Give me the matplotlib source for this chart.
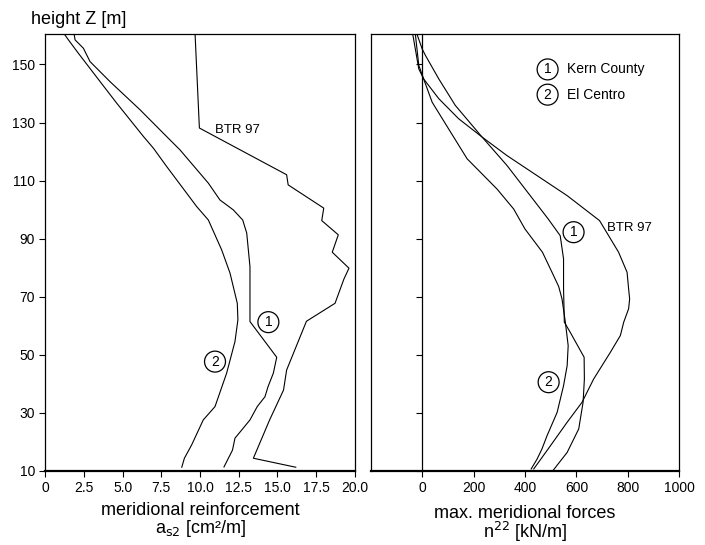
import numpy as np
import matplotlib.pyplot as plt

plt.rcParams['font.family'] = ['Liberation Sans', 'DejaVu Sans']

# left panel: meridional reinforcement a_s2 [cm2/m] over height z [m]
btr_z_a = [160.6, 128.1, 112, 108.5, 100.5, 96.2, 91.3, 85.3, 79.8, 76, 67.7, 61.5,
           44.7, 37.8, 27.5, 14.3, 11.2]
btr_a = [9.68, 9.96, 15.6, 15.7, 18.0, 17.87, 18.94, 18.55, 19.63, 19.3, 18.73, 16.88,
         15.6, 15.4, 14.5, 13.45, 16.19]

kern_z_a = [160.6, 158.5, 155.6, 151, 144.1, 134.4, 124, 120.6, 109.1, 103.3, 99.9, 96.4,
            91.9, 80.3, 61.4, 49.1, 43.6, 39, 35.5, 32.1, 27.5, 21.2, 17.1, 11.3]
kern_a = [1.86, 1.92, 2.46, 2.89, 4.18, 6.12, 8.06, 8.7, 10.54, 11.29, 12.15, 12.76,
          13.02, 13.23, 13.23, 14.96, 14.74, 14.4, 14.2, 13.7, 13.23, 12.26, 12.1, 11.55]

elc_z_a = [160.6, 158.5, 153.9, 144.1, 136.7, 125.2, 121.2, 114.8, 101, 96.4, 86.1, 78.1,
           67.7, 62, 54.5, 43.6, 32.1, 27.5, 18.9, 14.3, 11.2]
elc_a = [1.21, 1.49, 2.13, 3.54, 4.61, 6.34, 6.98, 7.85, 9.79, 10.54, 11.4, 11.94,
         12.41, 12.45, 12.26, 11.72, 10.97, 10.21, 9.46, 8.99, 8.82]

# right panel: max. meridional forces n22 [kN/m]
btr_z_n = [160.2, 149.7, 145, 138.2, 131.3, 125, 118.6, 111.7, 104.8, 96.2, 85.3, 78.4,
           72.7, 69.2, 65.8, 61.2, 56.6, 50.8, 41.6, 33.6, 26.7, 18.6, 10.6]
btr_n = [-26, -13, 6, 65, 142, 233, 330, 447, 564, 690, 764, 797,
         803, 807, 803, 784, 771, 732, 667, 622, 564, 499, 434]

kern_z_n = [160.2, 155.4, 153.1, 145, 135.9, 125, 115.2, 106, 96.8, 91, 83, 72.7,
            61.2, 57.7, 49.1, 41.6, 33.6, 24.4, 16.3, 10.3]
kern_n = [-19, 0, 13, 65, 129, 233, 330, 410, 490, 537, 550, 550,
          553, 576, 630, 631, 626, 609, 564, 511]

elc_z_n = [160.2, 148.5, 145, 137, 127.8, 117.5, 107.1, 100.2, 93.3, 85.3, 78.4, 73.5,
           69.2, 61.2, 53.1, 46.2, 39.3, 30.1, 22.1, 17.5, 14, 10.6]
elc_n = [-36, -13, 6, 39, 103, 175, 291, 356, 400, 468, 505, 531,
         544, 557, 568, 564, 550, 525, 486, 466, 447, 424]

z_ticks = [10, 30, 50, 70, 90, 110, 130, 150]
a_ticks = [0, 2.5, 5.0, 7.5, 10.0, 12.5, 15.0, 17.5, 20.0]
a_labels = ['0', '2.5', '5.0', '7.5', '10.0', '12.5', '15.0', '17.5', '20.0']
n_ticks = [0, 200, 400, 600, 800, 1000]

fig = plt.figure(figsize=(7.05, 5.45), dpi=100)
ax1 = fig.add_axes([0.0643, 0.1363, 0.4388, 0.8013])
ax2 = fig.add_axes([0.5258, 0.1363, 0.4377, 0.8013])

lw = 0.8
c = 'black'
for xs, zs in [(btr_a, btr_z_a), (kern_a, kern_z_a), (elc_a, elc_z_a)]:
    ax1.plot(xs, zs, color=c, lw=lw)
for xs, zs in [(btr_n, btr_z_n), (kern_n, kern_z_n), (elc_n, elc_z_n)]:
    ax2.plot(xs, zs, color=c, lw=lw)

circ = dict(boxstyle='circle,pad=0.25', fc='white', ec='black', lw=0.9)

ax1.set_xlim(0, 20)
ax1.set_ylim(10, 160.5)
ax1.set_xticks(a_ticks)
ax1.set_xticklabels(a_labels)
ax1.set_yticks(z_ticks)
ax1.text(10.97, 127.5, 'BTR 97', fontsize=9.5, va='center')
ax1.text(14.42, 61.2, '1', fontsize=10, ha='center', va='center', bbox=circ)
ax1.text(10.97, 47.6, '2', fontsize=10, ha='center', va='center', bbox=circ)
ax1.set_xlabel('meridional reinforcement\na$_{\\rm s2}$ [cm²/m]', fontsize=13, labelpad=5,
               linespacing=0.95)

ax2.set_xlim(-200, 1000)
ax2.set_ylim(10, 160.5)
ax2.set_xticks(n_ticks)
ax2.set_yticks([])
sec = ax2.secondary_yaxis(200 / 1200)
sec.set_yticks(z_ticks)
sec.set_yticklabels([])
sec.tick_params(direction='out', length=4, width=0.8)
sec.spines['left'].set_linewidth(0.9)
ax2.text(719, 93.6, 'BTR 97', fontsize=9.5, va='center')
ax2.text(589, 92.2, '1', fontsize=10, ha='center', va='center', bbox=circ)
ax2.text(492, 40.5, '2', fontsize=10, ha='center', va='center', bbox=circ)
ax2.text(488, 148.3, '1', fontsize=10, ha='center', va='center', bbox=circ)
ax2.text(488, 139.6, '2', fontsize=10, ha='center', va='center', bbox=circ)
ax2.text(563, 148.3, 'Kern County', fontsize=10, va='center')
ax2.text(563, 139.6, 'El Centro', fontsize=10, va='center')
ax2.set_xlabel('max. meridional forces\nn$^{22}$ [kN/m]', fontsize=13, labelpad=7,
               linespacing=0.9)

for ax in (ax1, ax2):
    ax.tick_params(direction='out', length=4, width=0.8, labelsize=10)
    for s in ('top', 'right', 'left'):
        ax.spines[s].set_linewidth(0.9)
    ax.spines['bottom'].set_linewidth(1.6)

fig.text(31 / 705, 1 - 20 / 545, 'height Z [m]', fontsize=13, va='center')

fig.savefig('out.png', dpi=100)
